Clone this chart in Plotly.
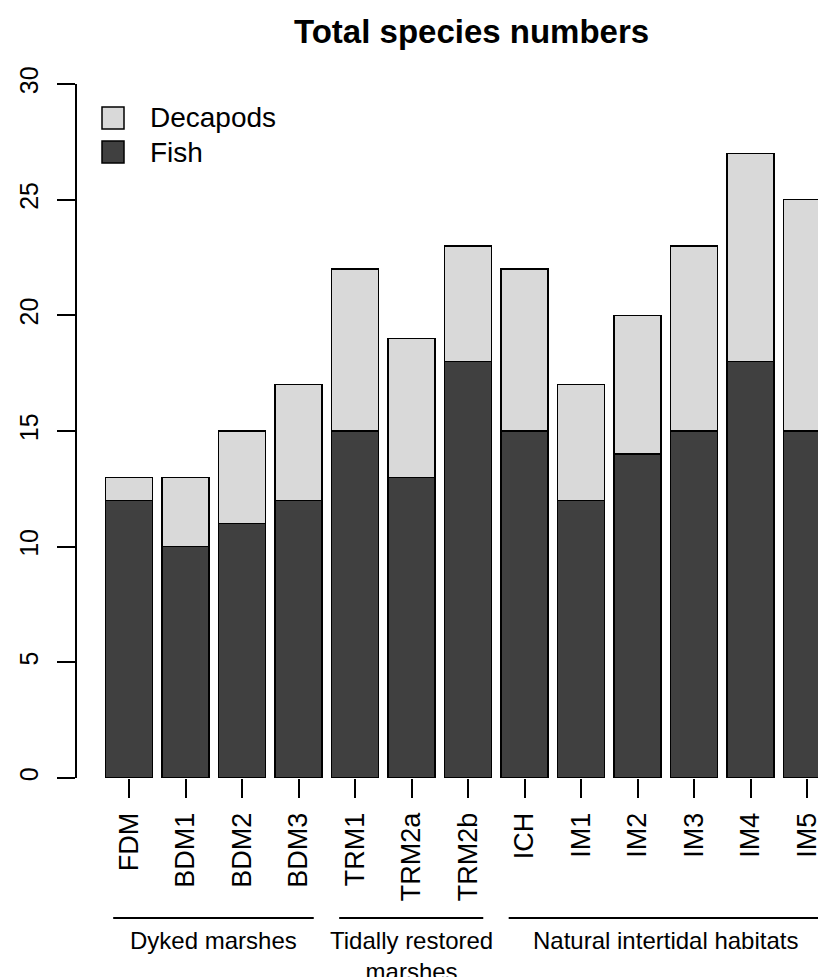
import plotly.graph_objects as go

# ---- data ----
sites = ["FDM", "BDM1", "BDM2", "BDM3", "TRM1", "TRM2a", "TRM2b",
         "ICH", "IM1", "IM2", "IM3", "IM4", "IM5"]
fish = [12, 10, 11, 12, 15, 13, 18, 15, 12, 14, 15, 18, 15]
decapods = [1, 3, 4, 5, 7, 6, 5, 7, 5, 6, 8, 9, 10]
groups = ["Dyked marshes", "Tidally restored<br>marshes", "Natural intertidal habitats"]
group_first = [0, 4, 7]
group_last = [3, 6, 12]
yticks = [0, 5, 10, 15, 20, 25, 30]
title = "Total species numbers"

FISH_COL = "#404040"
DEC_COL = "#d9d9d9"
FONT = "Liberation Sans, Arial, Helvetica, sans-serif"

# page body has an 8px default margin; lay out in window pixels and compensate
OFF = 8
WIN_W, WIN_H = 826, 977
W, H = WIN_W - OFF, WIN_H - OFF
AX_L, AX_T, AX_B = 77, 84, 778          # window pixel positions of plot edges
L = AX_L - OFF
T = AX_T - OFF
B = WIN_H - AX_B
R = 0
PW = WIN_W - AX_L
PH = AX_B - AX_T


def px_x(p):
    return (p - AX_L) / PW


def px_y(p):
    return (AX_B - p) / PH


fig = go.Figure()
fig.add_trace(go.Bar(x=sites, y=fish, name="Fish",
                     marker=dict(color=FISH_COL, line=dict(color="black", width=1.5)),
                     showlegend=False))
fig.add_trace(go.Bar(x=sites, y=decapods, name="Decapods",
                     marker=dict(color=DEC_COL, line=dict(color="black", width=1.5)),
                     showlegend=False))

shapes = []
annotations = []

# group underlines and labels
for g, a, b in zip(groups, group_first, group_last):
    shapes.append(dict(type="line", xref="x", yref="paper",
                       x0=a - 0.28, x1=b + 0.27, y0=px_y(918), y1=px_y(918),
                       line=dict(color="black", width=2)))
    annotations.append(dict(text=g, xref="x", yref="paper", x=(a + b) / 2, y=px_y(925),
                            xanchor="center", yanchor="top", showarrow=False,
                            font=dict(family=FONT, size=24, color="black")))

# legend (manual, R style)
leg = [("Decapods", DEC_COL, 118), ("Fish", FISH_COL, 152)]
for name, col, yc in leg:
    shapes.append(dict(type="rect", xref="paper", yref="paper",
                       x0=px_x(102), x1=px_x(124), y0=px_y(yc - 11), y1=px_y(yc + 11),
                       fillcolor=col, line=dict(color="black", width=1.5)))
    annotations.append(dict(text=name, xref="paper", yref="paper", x=px_x(148), y=px_y(yc),
                            xanchor="left", yanchor="middle", showarrow=False,
                            font=dict(family=FONT, size=28, color="black")))

# title
annotations.append(dict(text="<b>" + title + "</b>", xref="paper", yref="paper",
                        x=px_x(471.5), y=px_y(31), xanchor="center", yanchor="middle",
                        showarrow=False, font=dict(family=FONT, size=33, color="black")))

fig.update_layout(
    width=W, height=H,
    margin=dict(l=L, r=R, t=T, b=B, autoexpand=False),
    paper_bgcolor="white", plot_bgcolor="white",
    barmode="stack", bargap=0.168,
    shapes=shapes, annotations=annotations,
    showlegend=False,
    font=dict(family=FONT, color="black"),
)
fig.update_xaxes(
    type="category", range=[(AX_L - 129) / 56.5, (WIN_W - 129) / 56.5],
    automargin=False,
    showline=False, showgrid=False, zeroline=False,
    ticks="outside", ticklen=19, tickwidth=1.5, tickcolor="black",
    tickangle=-90, ticklabelstandoff=4,
    tickfont=dict(family=FONT, size=27, color="black"),
)
fig.update_yaxes(
    range=[0, 30], tickvals=yticks, ticktext=[str(v) for v in yticks],
    automargin=False,
    showline=True, linecolor="black", linewidth=1.5,
    showgrid=False, zeroline=False,
    ticks="outside", ticklen=18, tickwidth=1.5, tickcolor="black",
    tickangle=-90, ticklabelstandoff=9,
    tickfont=dict(family=FONT, size=25, color="black"),
)

fig.write_html("out.html")
